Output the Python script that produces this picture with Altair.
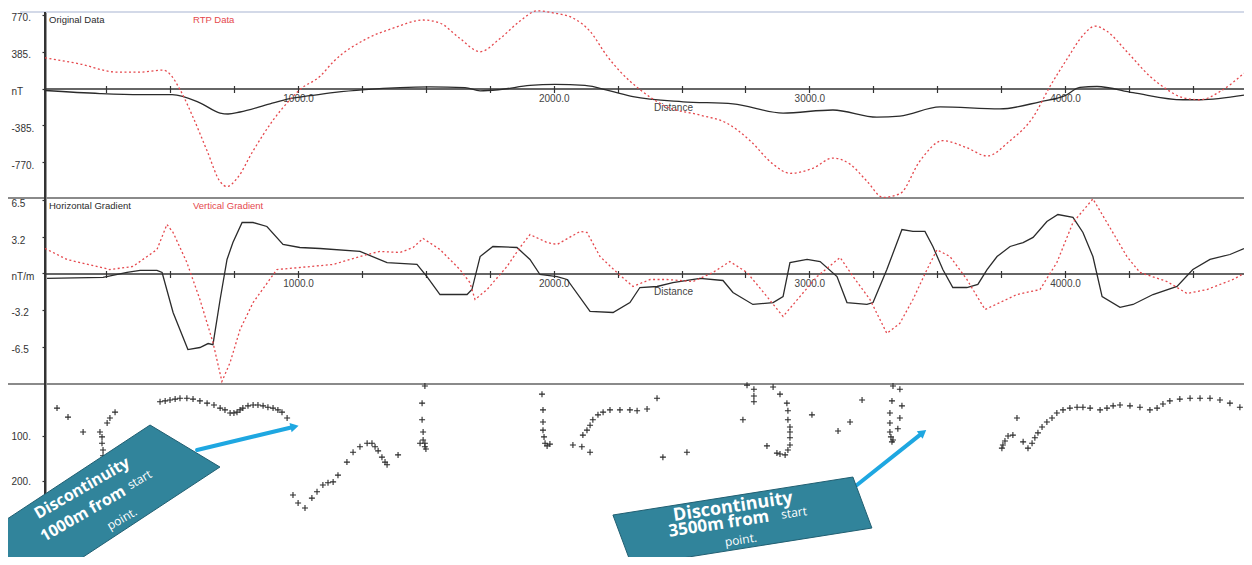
import altair as alt
import pandas as pd

# ---------------- data (distance in metres) ----------------
orig_dist = [10,225,382,507,616,695,726,773,890,968,1047,1144,1262,1399,1516,1653,1712,1790,1907,2005,
             2122,2220,2310,2506,2701,2897,3092,3264,3354,3511,3745,3902,4000,4058,4125,4266,4461,4528,4700]
orig_val = [-21,-53,-64,-64,-150,-257,-267,-246,-160,-107,-75,-40,-11,10,16,10,-25,-11,32,43,
            32,-25,-86,-139,-160,-257,-225,-300,-289,-193,-214,-139,-75,11,21,-43,-118,-118,-70]

rtp_dist = [10,147,292,382,472,499,538,589,644,695,722,761,824,902,968,1007,1086,1137,1270,1371,
            1489,1555,1633,1712,1790,1868,1935,1997,2075,2142,2208,2259,2337,2443,2572,2678,2768,2858,2924,3014,
            3092,3159,3225,3288,3354,3432,3522,3616,3695,3785,3875,3941,4008,4070,4117,4164,4242,4332,4399,4461,
            4528,4606,4700]
rtp_val = [321,257,171,171,193,150,-11,-300,-653,-975,-1027,-942,-653,-332,-118,-11,128,278,524,631,
           717,685,524,385,524,706,813,792,738,599,342,180,-11,-193,-278,-364,-546,-792,-888,-835,
           -728,-792,-970,-1140,-1102,-760,-546,-621,-706,-546,-300,21,310,556,653,599,385,128,-11,-96,
           -118,-32,160]

hg_dist = [18,237,331,382,448,468,511,569,616,648,667,695,722,745,781,824,878,941,1007,1086,
           1242,1348,1465,1504,1555,1661,1680,1712,1762,1856,1907,1946,2013,2052,2142,2232,2298,2337,2404,2466,
           2572,2662,2701,2779,2858,2897,2924,2991,3042,3108,3147,3225,3249,3303,3362,3405,3452,3483,3522,3561,
           3616,3659,3695,3734,3785,3836,3875,3929,3972,4031,4070,4109,4145,4215,4266,4344,4438,4500,4567,4645,
           4700]
hg_val = [-0.44,-0.35,0.09,0.27,0.27,0.09,-3.45,-6.73,-6.55,-6.2,-6.3,-2.3,1.24,2.74,4.51,4.51,4.16,2.57,2.3,2.21,
          1.95,0.97,0.8,-0.27,-1.86,-1.86,-1.42,1.5,2.39,2.3,1.24,-0.09,-0.27,-0.53,-3.36,-3.45,-2.57,-1.24,-1.15,-0.8,
          -0.44,-0.62,-1.68,-2.74,-2.57,-2.04,0.97,1.24,1.06,-0.27,-2.57,-2.74,-2.57,0.35,3.89,3.72,3.72,2.39,0.35,-1.24,
          -1.24,-0.97,0.35,1.5,2.39,2.74,3.19,4.6,5.22,4.96,3.63,1.5,-2.04,-3.0,-2.74,-1.86,-1.15,0.35,1.24,1.68,
          2.2]

vg_dist = [10,96,264,354,448,487,511,565,616,667,702,734,773,824,917,1007,1137,1270,1320,1399,
           1450,1489,1555,1633,1672,1692,1739,1817,1868,1907,1974,2013,2103,2130,2181,2247,2310,2377,2443,2545,
           2623,2689,2756,2834,2897,2963,3030,3120,3171,3237,3303,3354,3405,3460,3499,3550,3616,3687,3745,3812,
           3902,3968,4031,4109,4164,4242,4293,4399,4477,4555,4657,4700]
vg_val = [2.21,1.24,0.35,0.62,2.12,4.34,3.63,0.97,-2.3,-6.1,-9.56,-7.88,-4.96,-2.57,0.35,0.53,0.8,1.68,1.95,1.86,
          2.3,3.1,2.12,0.35,-0.8,-2.3,-1.42,0.62,2.3,3.45,2.74,2.57,3.72,3.63,1.5,0.09,-1.15,-0.53,-0.53,-0.71,
          0.09,1.06,0.09,-2.04,-3.8,-2.04,-0.27,1.42,-0.27,-2.3,-5.3,-4.4,-2.3,0.35,2.1,1.5,-0.53,-3.19,-2.57,-1.86,
          -1.42,0.97,4.51,6.6,4.51,1.5,0.09,-0.71,-1.77,-1.42,-0.53,0.0]

euler_dist = [57,100,159,225,233,233,237,237,253,264,284,
              460,480,499,519,538,565,589,616,644,671,695,714,734,749,761,773,784,804,824,843,863,882,902,921,937,957,
              980,1000,1027,1054,1074,1097,1117,1137,1156,1191,1215,1242,1270,1289,1301,1313,1328,1340,1348,1391,
              1496,1485,1485,1489,1489,1496,1496,1500,1477,
              1954,1958,1958,1958,1962,1966,1974,1985,2075,2110,2142,
              2114,2130,2142,2153,2173,2193,2220,2259,2298,2326,2365,
              2404,2427,2521,
              2756,2783,2783,2783,2740,
              2858,2885,2912,2916,2916,2924,2924,2924,2924,2916,2905,2885,2873,2834,
              3010,3112,3159,3206,
              3327,3354,3323,3362,3315,3354,3315,3346,3315,3319,3323,3327,
              3753,3757,3765,3777,3796,3812,3836,3855,3871,3882,3894,3910,3929,3949,3968,3992,4019,4047,4070,4098,
              4137,4164,4188,4215,4254,4293,4332,4360,4383,4410,4449,4489,4528,4567,4606,4645,4684]
euler_depth = [38,58,91,91,102,116,131,144,71,60,47,
               24,22,20,18,16,16,18,22,27,31,38,42,49,49,47,42,38,33,31,31,33,36,38,42,47,60,
               231,249,260,238,224,209,204,202,187,158,136,124,116,116,124,133,147,158,164,142,
               -11,27,64,91,109,116,124,129,116,
               7,42,69,87,102,116,122,118,120,124,136,
               98,87,76,64,53,47,42,42,42,44,40,
               16,147,136,
               -13,-4,11,24,64,
               -9,7,27,44,64,80,91,104,120,131,142,140,138,122,
               53,89,69,20,
               -11,-4,22,33,49,60,71,84,91,102,113,109,
               127,120,111,100,98,60,113,127,116,104,93,80,69,60,49,42,38,36,36,38,
               42,38,33,31,33,36,42,38,29,22,18,16,16,16,20,27,36]

top_ticks = [770, 385, 0, -385, -770]
mid_ticks = [6.5, 3.2, 0, -3.2, -6.5]
bot_ticks = [100, 200]
dist_ticks = list(range(250, 4701, 250))

# annotation callouts (distance, depth)
box_dist = [120.5, 2738]
box_depth = [285.6, 290]
arrow_from_dist = [605, 3186]
arrow_from_depth = [131, 209]
arrow_to_dist = [981, 3440]
arrow_to_depth = [80, 94]

# ---------------- layout ----------------
W, H = 1199, 545
FONT = "Liberation Sans"
BLACK = "#2b2b2b"
RED = "#e5484d"
TEAL = "#31849b"
TEAL_DARK = "#215f72"
BLUE = "#1ea7e1"

x_scale = alt.Scale(domain=[10, 4700], nice=False, zero=False)
top_y = alt.Scale(domain=[-1136, 801], range=[185, 0], nice=False, zero=False)
mid_y = alt.Scale(domain=[-9.69, 6.68], range=[371, 186], nice=False, zero=False)
bot_y = alt.Scale(domain=[-15.6, 368.9], range=[372, 545], nice=False, zero=False)


def x_axis(offset, title_y):
    return alt.Axis(orient="bottom", offset=offset, values=dist_ticks,
                    labelExpr="datum.value % 1000 === 0 ? format(datum.value, '.1f') : ''",
                    labelFont=FONT, labelFontSize=10, labelColor="#444", labelPadding=1,
                    labelOverlap=False, labelFlush=False,
                    tickSize=4, tickWidth=1.2, tickColor="#333", domainColor="#333", domainWidth=1.5,
                    grid=False, title="Distance", titleX=628, titleY=title_y,
                    titleAlign="center", titleBaseline="middle", titleFont=FONT,
                    titleFontSize=10, titleFontWeight="normal", titleColor="#444")


def x_ticks_up(offset):
    # upper half of the crossing tick marks on the zero line
    return alt.Axis(orient="top", offset=offset, values=dist_ticks, labels=False, domain=False,
                    ticks=True, tickSize=3, tickWidth=1.2, tickColor="#333", grid=False, title=None)


def y_axis(values, expr, loff):
    return alt.Axis(orient="left", values=values, labelExpr=expr, title=None, grid=False,
                    domain=True, ticks=True,
                    tickSize=3, tickWidth=1.2, tickColor="#333", domainColor="#333", domainWidth=2,
                    labelAlign="left", labelPadding=31, labelOffset=loff,
                    labelFont=FONT, labelFontSize=10, labelColor="#333")


one = pd.DataFrame({"k": [0]})


def label(text, px, py, color):
    return alt.Chart(one).mark_text(text=text, align="left", baseline="middle",
                                    font=FONT, fontSize=9.5, color=color).encode(
        x=alt.value(px), y=alt.value(py))


def hline(py, color, sw, x0):
    return alt.Chart(one).mark_rule(color=color, strokeWidth=sw).encode(
        x=alt.value(x0), x2=alt.value(W), y=alt.value(py))


layers = []

# ---- frame ----
layers += [hline(0, "#c5cde0", 1.5, -25), hline(186, "#8a8a8a", 2, -37), hline(372, "#8a8a8a", 2, -37),
           alt.Chart(one).mark_rect(color="#333").encode(
               x=alt.value(-1), x2=alt.value(1), y=alt.value(0), y2=alt.value(H))]

# ---- top panel ----
orig_df = pd.DataFrame({"d": orig_dist, "v": orig_val})
rtp_df = pd.DataFrame({"d": rtp_dist, "v": rtp_val})
layers.append(
    alt.Chart(orig_df).mark_line(color=BLACK, strokeWidth=1.3, interpolate="monotone").encode(
        x=alt.X("d:Q", scale=x_scale, axis=x_axis(-468.5, 19)),
        y=alt.Y("v:Q", scale=top_y,
                axis=y_axis(top_ticks, "datum.value === 0 ? 'nT' : datum.value + '.'", 3))))
layers.append(
    alt.Chart(rtp_df).mark_line(color=RED, strokeWidth=1.3, strokeDash=[2, 2.5],
                                interpolate="monotone").encode(
        x=alt.X("d:Q", scale=x_scale, axis=x_ticks_up(-76.5)),
        y=alt.Y("v:Q", scale=top_y, axis=None)))
layers += [label("Original Data", 4, 8, BLACK), label("RTP Data", 148, 8, RED)]

# ---- middle panel ----
hg_df = pd.DataFrame({"d": hg_dist, "v": hg_val})
vg_df = pd.DataFrame({"d": vg_dist, "v": vg_val})
layers.append(
    alt.Chart(hg_df).mark_line(color=BLACK, strokeWidth=1.3).encode(
        x=alt.X("d:Q", scale=x_scale, axis=x_axis(-283.5, 18)),
        y=alt.Y("v:Q", scale=mid_y,
                axis=y_axis(mid_ticks, "datum.value === 0 ? 'nT/m' : datum.value + ''", 3))))
layers.append(
    alt.Chart(vg_df).mark_line(color=RED, strokeWidth=1.3, strokeDash=[2, 2.5]).encode(
        x=alt.X("d:Q", scale=x_scale, axis=x_ticks_up(-261.5)),
        y=alt.Y("v:Q", scale=mid_y, axis=None)))
layers += [label("Horizontal Gradient", 4, 194, BLACK), label("Vertical Gradient", 148, 194, RED)]

# ---- bottom panel (Euler solutions) ----
eu_df = pd.DataFrame({"d": euler_dist, "z": euler_depth})
box_df = pd.DataFrame({"d": box_dist, "z": box_depth})
arr_df = pd.DataFrame({"d": arrow_from_dist, "z": arrow_from_depth,
                       "d2": arrow_to_dist, "z2": arrow_to_depth, "ang": [77, 52]})

BOX1 = "M0.512,-0.63L0.978,-0.35L-0.512,0.63L-0.978,0.35Z"
BOX2 = "M-0.996,-0.05L0.85,-0.342L0.996,0.05L-0.85,0.342Z"

layers.append(
    alt.Chart(eu_df).mark_point(shape="M-1,0L1,0M0,-1L0,1", size=36, filled=False,
                                color=BLACK, strokeWidth=1.1, opacity=1).encode(
        x=alt.X("d:Q", scale=x_scale, axis=None),
        y=alt.Y("z:Q", scale=bot_y, axis=y_axis(bot_ticks, "datum.value + '.'", 0))))
layers.append(
    alt.Chart(arr_df).mark_rule(color=BLUE, strokeWidth=4, strokeCap="round").encode(
        x=alt.X("d:Q", scale=x_scale, axis=None), x2="d2:Q",
        y=alt.Y("z:Q", scale=bot_y, axis=None), y2="z2:Q"))
layers.append(
    alt.Chart(arr_df).mark_point(shape="triangle", filled=True, size=90, color=BLUE,
                                 opacity=1).encode(
        x=alt.X("d2:Q", scale=x_scale, axis=None),
        y=alt.Y("z2:Q", scale=bot_y, axis=None),
        angle=alt.Angle("ang:Q", scale=None)))
for i, shp, sz in [(0, BOX1, 90000), (1, BOX2, 67600)]:
    layers.append(
        alt.Chart(box_df.iloc[[i]]).mark_point(shape=shp, size=sz, filled=True, fill=TEAL,
                                               stroke=TEAL_DARK, strokeWidth=1, opacity=1).encode(
            x=alt.X("d:Q", scale=x_scale, axis=None),
            y=alt.Y("z:Q", scale=bot_y, axis=None)))


def ptext(text, d, z, size, weight, ang):
    df = pd.DataFrame({"d": [d], "z": [z]})
    return alt.Chart(df).mark_text(text=text, align="center", baseline="middle", angle=ang,
                                   font="Open Sans", fontSize=size, fontWeight=weight,
                                   color="white").encode(
        x=alt.X("d:Q", scale=x_scale, axis=None),
        y=alt.Y("z:Q", scale=bot_y, axis=None))


layers += [
    ptext("Discontinuity", 155, 216, 16, "bold", 330),
    ptext("1000m  from", 159, 273, 16, "bold", 330),
    ptext("start", 380, 197, 12, "normal", 330),
    ptext("point.", 311, 284, 12, "normal", 330),
    ptext("Discontinuity", 2701, 258, 18, "bold", 351.5),
    ptext("3500m  from", 2646, 296, 17, "bold", 351.5),
    ptext("start", 2940, 271, 12, "normal", 351.5),
    ptext("point.", 2732, 331, 12, "normal", 351.5),
]

chart = alt.layer(*layers).resolve_scale(
    y="independent"
).resolve_axis(
    x="independent", y="independent"
).properties(
    width=W, height=H,
    autosize=alt.AutoSizeParams(type="none"),
    padding={"left": 37, "top": 4, "right": 0, "bottom": 0},
    background="white",
).configure_view(stroke=None)

chart.save("out.html", embed_options={"renderer": "svg", "actions": False})
